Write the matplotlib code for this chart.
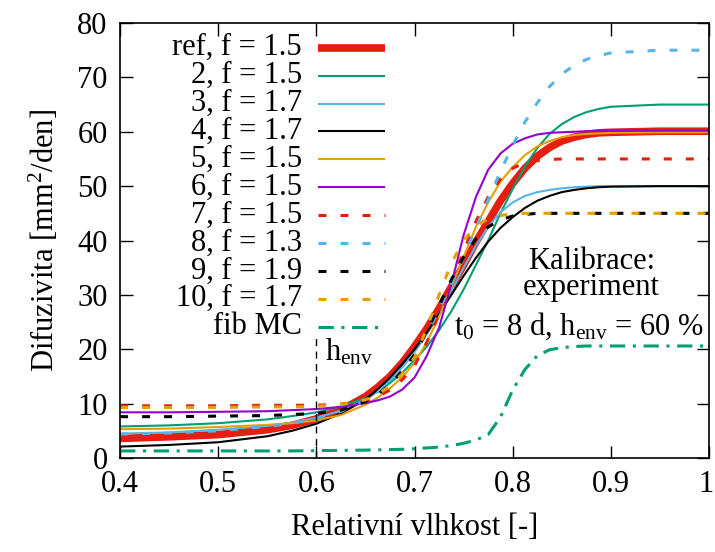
import matplotlib
matplotlib.use("Agg")
import matplotlib.pyplot as plt
from matplotlib.transforms import ScaledTranslation

plt.rcParams['font.family'] = ['Liberation Serif', 'DejaVu Serif']
plt.rcParams['mathtext.fontset'] = 'custom'
plt.rcParams['mathtext.rm'] = 'Liberation Serif'
plt.rcParams['mathtext.it'] = 'Liberation Serif:italic'
plt.rcParams['font.size'] = 22

# relative humidity grid (values read at these points)
h = [0.40, 0.45, 0.50, 0.55, 0.575, 0.60, 0.625, 0.65, 0.6625, 0.675, 0.6875, 0.70, 0.7125,
     0.725, 0.7375, 0.75, 0.7625, 0.775, 0.7875, 0.80, 0.8125, 0.825, 0.8375, 0.85,
     0.8625, 0.875, 0.8875, 0.90, 0.95, 1.00]

d_ref = [3.6, 3.9, 4.3, 5.2, 6.0, 7.2, 8.8, 11.3, 13.0, 15.0, 17.5, 20.5, 23.8, 27.5, 31.5,
         35.5, 39.7, 43.5, 47.3, 50.5, 53.3, 55.5, 57.1, 58.3, 59.0, 59.5, 59.8, 59.9, 60.1, 60.1]
d_2 = [5.8, 6.0, 6.4, 7.1, 7.7, 8.4, 9.5, 11.0, 12.2, 13.8, 15.7, 18.0, 20.5, 23.5, 27.0,
       31.0, 35.5, 40.0, 45.0, 49.5, 53.6, 57.0, 59.6, 61.4, 62.7, 63.6, 64.2, 64.6, 65.0, 65.0]
d_3 = [4.5, 4.7, 5.2, 5.9, 6.5, 7.4, 8.7, 10.8, 12.3, 14.3, 16.7, 19.5, 22.8, 26.5, 30.7,
       35.0, 39.0, 42.5, 45.2, 47.0, 48.2, 48.9, 49.3, 49.6, 49.8, 49.9, 50.0, 50.0, 50.0, 50.0]
d_4 = [2.1, 2.4, 2.9, 4.0, 5.0, 6.3, 8.2, 10.8, 12.6, 14.8, 17.3, 20.0, 23.1, 26.5, 30.0,
       33.5, 36.8, 39.8, 42.3, 44.3, 46.0, 47.3, 48.2, 48.9, 49.3, 49.6, 49.8, 49.9, 50.0, 50.0]
d_5 = [5.3, 5.4, 5.7, 6.1, 6.4, 6.9, 7.9, 9.8, 11.1, 12.8, 14.9, 17.5, 21.3, 26.0, 31.5,
       37.0, 42.5, 47.0, 50.8, 53.5, 55.7, 57.3, 58.3, 59.0, 59.4, 59.6, 59.7, 59.8, 59.9, 59.9]
d_6 = [8.4, 8.4, 8.5, 8.6, 8.8, 9.0, 9.4, 10.1, 10.6, 11.3, 12.6, 14.8, 18.8, 24.0, 32.0,
       41.0, 48.0, 53.0, 56.0, 57.8, 58.8, 59.5, 59.8, 59.9, 60.0, 60.1, 60.2, 60.2, 60.2, 60.2]
d_7 = [9.6, 9.6, 9.6, 9.7, 9.7, 9.7, 9.9, 10.5, 11.3, 12.5, 14.4, 17.0, 21.3, 26.5, 32.3,
       38.0, 43.5, 48.0, 51.3, 53.3, 54.3, 54.7, 54.9, 55.0, 55.0, 55.0, 55.0, 55.0, 55.0, 55.0]
d_8 = [4.4, 4.6, 5.0, 5.8, 6.4, 7.3, 8.6, 10.6, 12.1, 14.0, 16.4, 19.3, 23.0, 27.3, 32.0,
       37.0, 42.3, 47.5, 52.7, 57.5, 61.8, 65.3, 68.3, 70.6, 72.2, 73.3, 74.0, 74.5, 75.0, 75.0]
d_9 = [7.6, 7.6, 7.7, 7.8, 8.0, 8.2, 8.8, 10.4, 11.7, 13.5, 16.0, 19.0, 23.3, 28.0, 32.8,
       37.0, 40.3, 42.5, 43.8, 44.5, 44.8, 45.0, 45.0, 45.0, 45.0, 45.0, 45.0, 45.0, 45.0, 45.0]
d_10 = [9.3, 9.3, 9.3, 9.4, 9.4, 9.5, 9.8, 10.7, 11.7, 13.3, 15.5, 18.5, 23.8, 30.0, 35.8,
        40.0, 42.7, 44.0, 44.6, 44.9, 45.0, 45.0, 45.0, 45.0, 45.0, 45.0, 45.0, 45.0, 45.0, 45.0]
d_fib = [1.3, 1.3, 1.3, 1.3, 1.3, 1.35, 1.4, 1.45, 1.5, 1.55, 1.6, 1.7, 1.85, 2.0, 2.3,
         2.7, 3.3, 4.3, 7.5, 12.5, 16.3, 18.8, 19.9, 20.3, 20.5, 20.6, 20.6, 20.6, 20.6, 20.6]

labels = ["ref, f = 1.5", "2, f = 1.5", "3, f = 1.7", "4, f = 1.7", "5, f = 1.5",
          "6, f = 1.5", "7, f = 1.5", "8, f = 1.3", "9, f = 1.9", "10, f = 1.7", "fib MC"]
series = [d_ref, d_2, d_3, d_4, d_5, d_6, d_7, d_8, d_9, d_10, d_fib]
colors = ["#e51e10", "#009e73", "#56b4e9", "#000000", "#e69f00", "#9400d3",
          "#e51e10", "#56b4e9", "#000000", "#e69f00", "#009e73"]
widths = [5.5, 1.5, 1.5, 1.5, 1.5, 1.5, 2.2, 2.2, 2.2, 2.2, 2.2]
dashes = [None, None, None, None, None, None, (2.6, 4.6), (2.6, 4.6), (2.6, 4.6), (2.6, 4.6),
          (5, 2.5, 1, 2.5)]

henv = 0.6
henv_top = 22.5

fig = plt.figure(figsize=(7.15, 5.52), dpi=100)
ax = fig.add_axes([0.168, 0.1703, 0.8236, 0.788])

# legend layout (axes fraction)
leg_text_x = 0.309
leg_line_x = (0.336, 0.450)
leg_y0 = 0.943
leg_dy = 0.0641

for i, (d, lab, c, w, ds) in enumerate(zip(series, labels, colors, widths, dashes)):
    line, = ax.plot(h, d, color=c, lw=w, solid_capstyle='butt',
                    dash_capstyle='butt', solid_joinstyle='round')
    yy = leg_y0 - i * leg_dy
    hl, = ax.plot(leg_line_x, [yy, yy], color=c, lw=w, transform=ax.transAxes,
                  solid_capstyle='butt', dash_capstyle='butt', clip_on=False)
    if ds is not None:
        line.set_dashes(ds)
        hl.set_dashes(ds)
    ax.text(leg_text_x, yy, lab, ha='right', va='center', transform=ax.transAxes)

ax.plot([henv, henv], [0, henv_top], color='black', lw=1.0, dashes=(5, 4))

ax.set_xlim(0.4, 1.0)
ax.set_ylim(0, 80)
ax.set_xticks([0.4, 0.5, 0.6, 0.7, 0.8, 0.9, 1.0])
ax.set_xticklabels(["0.4", "0.5", "0.6", "0.7", "0.8", "0.9", "1"])
ax.set_yticks(range(0, 81, 10))
ax.tick_params(direction='in', length=9, width=1, top=True, right=True, pad=9)
for s in ax.spines.values():
    s.set_linewidth(1.2)

last = ax.get_xticklabels()[-1]
last.set_transform(last.get_transform() + ScaledTranslation(-3 / 100, 0, fig.dpi_scale_trans))

ax.set_xlabel("Relativní vlhkost [-]", labelpad=10)
ax.set_ylabel("Difuzivita [mm$^2$/den]", labelpad=12)

ax.text(0.609, 19.5, "h$_{\\rm env}$", ha='left', va='center')
ax.text(0.88, 33.7, "Kalibrace:\nexperiment", ha='center', va='center', linespacing=0.85)
ax.text(0.868, 24.3, "t$_0$ = 8 d, h$_{\\rm env}$ = 60 %", ha='center', va='center')

fig.savefig("out.png", dpi=100)
